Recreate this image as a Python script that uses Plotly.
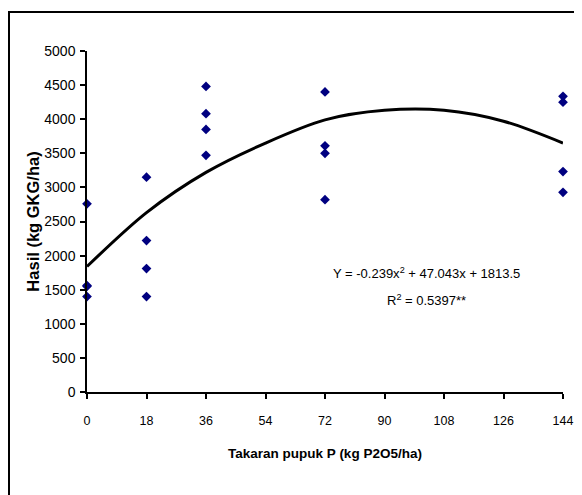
import plotly.graph_objects as go

# Observed yields (kg GKG/ha) per P dose (kg P2O5/ha)
dose = [0, 0, 0, 0,
        18, 18, 18, 18,
        36, 36, 36, 36,
        72, 72, 72, 72,
        144, 144, 144, 144]
yield_obs = [2760, 1560, 1550, 1400,
             3150, 2220, 1810, 1400,
             4480, 4080, 3850, 3470,
             4400, 3610, 3500, 2820,
             4335, 4250, 3233, 2928]

# Trendline at the tick positions
trend_x = [0, 18, 36, 54, 72, 90, 108, 126, 144]
trend_y = [1840, 2630, 3220, 3650, 3990, 4130, 4130, 3970, 3650]

x_ticks = [0, 18, 36, 54, 72, 90, 108, 126, 144]
y_ticks = [0, 500, 1000, 1500, 2000, 2500, 3000, 3500, 4000, 4500, 5000]

eq_text = "Y = -0.239x<sup>2</sup> + 47.043x + 1813.5"
r2_text = "R<sup>2</sup> = 0.5397**"

FONT = "Liberation Sans, Arial, sans-serif"

# page body has an 8px margin, so the figure is sized to fit the window
W, H = 574, 487
L, R, T, B = 79, 19, 43, 103
PW, PH = W - L - R, H - T - B


def px_x(fx):
    return (fx - L) / PW


def px_y(fy):
    return (T + PH - fy) / PH


fig = go.Figure()
fig.add_trace(go.Scatter(
    x=trend_x, y=trend_y, mode="lines",
    line=dict(color="black", width=3, shape="spline", smoothing=0.9),
    cliponaxis=False, showlegend=False, hoverinfo="skip"))
fig.add_trace(go.Scatter(
    x=dose, y=yield_obs, mode="markers",
    marker=dict(symbol="diamond", size=7.5, color="#000080",
                line=dict(width=0)),
    cliponaxis=False, showlegend=False))

fig.update_layout(
    width=W, height=H,
    margin=dict(l=L, r=R, t=T, b=B, autoexpand=False),
    paper_bgcolor="white", plot_bgcolor="white",
    font=dict(family=FONT, color="black", size=13),
    xaxis=dict(
        range=[0, 144], tickmode="array", tickvals=x_ticks,
        ticktext=[str(v) for v in x_ticks],
        showgrid=False, zeroline=False, automargin=False,
        showline=True, linecolor="black", linewidth=1.5,
        ticks="outside", ticklen=5, tickcolor="black", tickwidth=1.5,
        ticklabelstandoff=11,
        tickfont=dict(family=FONT, size=12.5),
        title=dict(text="<b>Takaran pupuk P (kg P2O5/ha)</b>",
                   font=dict(family=FONT, size=13.5), standoff=22),
    ),
    yaxis=dict(
        range=[0, 5000], tickmode="array", tickvals=y_ticks,
        ticktext=[str(v) for v in y_ticks],
        showgrid=False, zeroline=False, automargin=False,
        showline=True, linecolor="black", linewidth=1.5,
        ticks="outside", ticklen=5, tickcolor="black", tickwidth=1.5,
        ticklabelstandoff=2,
        tickfont=dict(family=FONT, size=14),
        title=dict(text="<b>Hasil (kg GKG/ha)</b>",
                   font=dict(family=FONT, size=16.5), standoff=1),
    ),
    annotations=[
        dict(text=eq_text, xref="paper", yref="paper",
             x=px_x(426 - 8), y=px_y(273 - 8),
             xanchor="center", yanchor="middle", showarrow=False,
             font=dict(family=FONT, size=13, color="black")),
        dict(text=r2_text, xref="paper", yref="paper",
             x=px_x(426 - 8), y=px_y(300 - 8),
             xanchor="center", yanchor="middle", showarrow=False,
             font=dict(family=FONT, size=13, color="black")),
    ],
    shapes=[
        dict(type="rect", xref="paper", yref="paper",
             x0=px_x(1), x1=3, y0=-3, y1=px_y(12 - 8),
             line=dict(color="black", width=2), fillcolor="rgba(0,0,0,0)",
             layer="below"),
    ],
)

fig.write_html("out.html")
